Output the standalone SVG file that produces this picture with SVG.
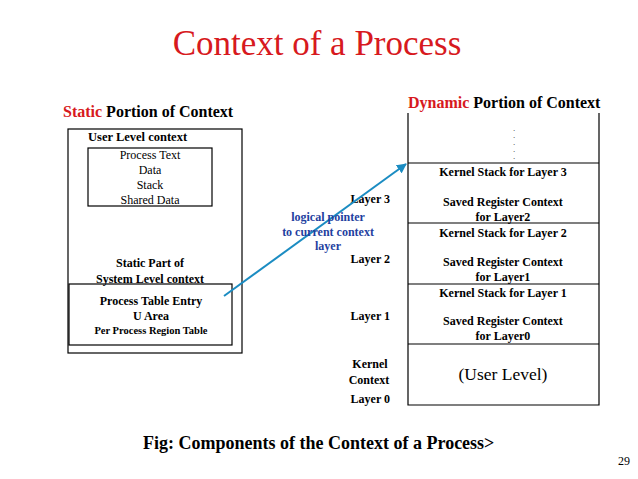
<svg xmlns="http://www.w3.org/2000/svg" width="638" height="479" viewBox="0 0 638 479">
<style>
text{font-family:"Liberation Serif","Times New Roman",serif;fill:#000}
.b{font-weight:bold}
.red{fill:#d71920}
.blue{fill:#1f3f9f;font-weight:bold;font-size:12px}
.box{fill:none;stroke:#000;stroke-width:1.2}
.c{text-anchor:middle}
.r{text-anchor:end}
.s12{font-size:12px}
.dot{font-size:7px;text-anchor:middle}
.lay{font-size:12px;font-weight:bold;text-anchor:end}
</style>
<defs>
<marker id="ah" viewBox="0 0 10 10" refX="9" refY="5" markerWidth="5" markerHeight="5" orient="auto" markerUnits="strokeWidth">
<path d="M0,0 L10,5 L0,10 z" fill="#1b8cc2"/>
</marker>
</defs>
<rect width="638" height="479" fill="#fff"/>
<text x="317" y="55" class="c red" style="font-size:35px">Context of a Process</text>

<g id="static">
<text x="63" y="117" class="b" style="font-size:16px"><tspan class="red">Static</tspan> Portion of Context</text>
<rect x="68" y="129" width="174" height="224" class="box"/>
<text x="88" y="141" class="b" style="font-size:12.5px">User Level context</text>
</g>
<g id="user-level">
<rect x="88" y="148" width="124" height="58" class="box"/>
<text x="150" y="159" class="c s12">Process Text</text>
<text x="150" y="174" class="c s12">Data</text>
<text x="150" y="189" class="c s12">Stack</text>
<text x="150" y="204" class="c s12">Shared Data</text>
</g>
<g id="system-level">
<text x="150" y="267" class="c b s12">Static Part of</text>
<text x="150" y="283" class="c b s12">System Level context</text>
<rect x="69" y="284" width="163" height="61" class="box"/>
<text x="151" y="305" class="c b s12">Process Table Entry</text>
<text x="151" y="320" class="c b s12">U Area</text>
<text x="151" y="334" class="c b" style="font-size:10.5px">Per Process Region Table</text>
</g>

<g id="dynamic">
<text x="408" y="108" class="b" style="font-size:16px"><tspan class="red">Dynamic</tspan> Portion of Context</text>
<path d="M408,113 V405 H599 V113" class="box"/>
<text x="514" y="131" class="dot">.</text>
<text x="514" y="138" class="dot">.</text>
<text x="514" y="145" class="dot">.</text>
<text x="514" y="152" class="dot">.</text>
<text x="514" y="159" class="dot">.</text>
</g>
<g id="layer3">
<line x1="408" y1="163" x2="599" y2="163" class="box"/>
<text x="503" y="176" class="c b s12">Kernel Stack for Layer 3</text>
<text x="503" y="206" class="c b s12">Saved Register Context</text>
<text x="503" y="221" class="c b s12">for Layer2</text>
</g>
<g id="layer2">
<line x1="408" y1="223" x2="599" y2="223" class="box"/>
<text x="503" y="237" class="c b s12">Kernel Stack for Layer 2</text>
<text x="503" y="266" class="c b s12">Saved Register Context</text>
<text x="503" y="281" class="c b s12">for Layer1</text>
</g>
<g id="layer1">
<line x1="408" y1="284" x2="599" y2="284" class="box"/>
<text x="503" y="297" class="c b s12">Kernel Stack for Layer 1</text>
<text x="503" y="325" class="c b s12">Saved Register Context</text>
<text x="503" y="340" class="c b s12">for Layer0</text>
</g>
<g id="layer0">
<line x1="408" y1="344" x2="599" y2="344" class="box"/>
<text x="503" y="380" class="c" style="font-size:17.5px">(User Level)</text>
</g>

<g id="layer-labels">
<text x="390" y="203" class="lay">Layer 3</text>
<text x="390" y="263" class="lay">Layer 2</text>
<text x="390" y="320" class="lay">Layer 1</text>
<text x="370" y="368" class="c b s12">Kernel</text>
<text x="369" y="384" class="c b s12">Context</text>
<text x="390" y="403" class="lay">Layer 0</text>
</g>

<g id="connectors">
<line x1="224" y1="296" x2="406" y2="164" stroke="#1b8cc2" stroke-width="2" marker-end="url(#ah)"/>
</g>
<g id="pointer-label">
<text x="328" y="221" class="c blue">logical pointer</text>
<text x="328" y="236" class="c blue">to current context</text>
<text x="328" y="250" class="c blue">layer</text>
</g>

<text x="143" y="449" class="b" style="font-size:18px">Fig: Components of the Context of a Process&gt;</text>
<text x="630" y="465" class="r" style="font-size:12px">29</text>
</svg>
